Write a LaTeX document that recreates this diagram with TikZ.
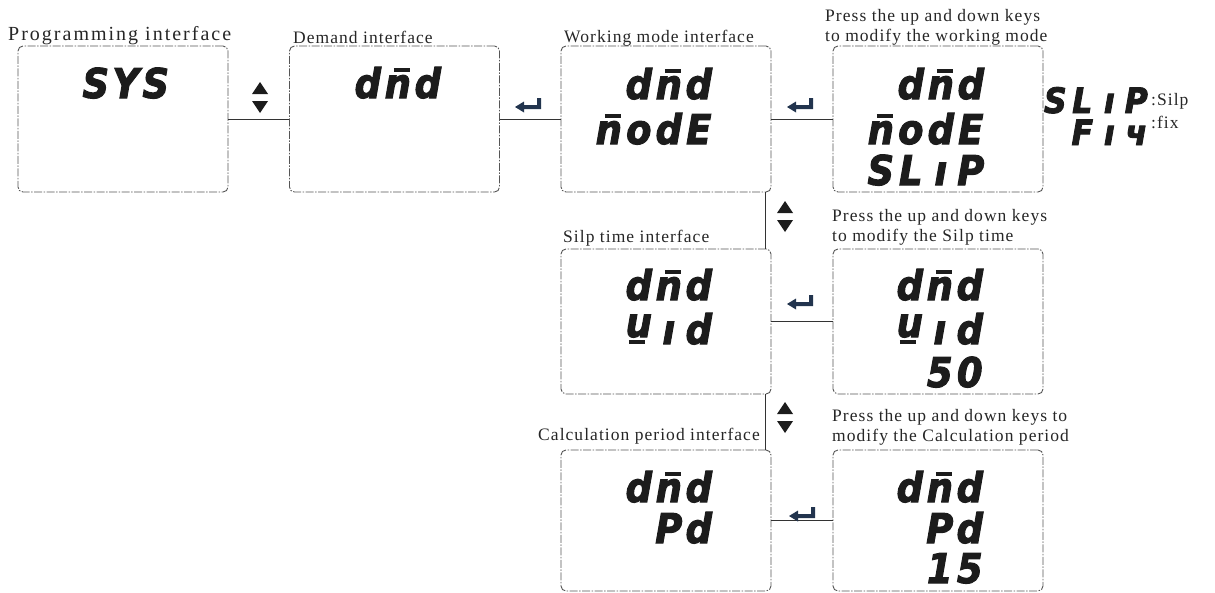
\documentclass[tikz,border=0pt]{standalone}
\usepackage{fontspec}
\setmainfont{Liberation Serif}[LetterSpace=6]
\newfontfamily\progfont{Liberation Serif}[LetterSpace=10]
\newfontfamily\segf{DejaVu Sans}[FakeStretch=0.9, BoldItalicFeatures={FakeBold=2.5}]
\newlength\segpitch
\setlength\segpitch{30pt}
\newcommand\segch[1]{\makebox[\segpitch][c]{#1}}
\def\segloop#1{\ifx#1\relax\else\segch{#1}\expandafter\segloop\fi}
\newcommand\segline[1]{\segloop#1\relax}
\newcommand\barn{\ooalign{n\cr\hidewidth\kern8pt\rule[26pt]{16pt}{4.5pt}\hidewidth\cr}}
\newcommand\wseg{\ooalign{\raisebox{7pt}{u}\cr\hidewidth\rule{16pt}{4.5pt}\kern4pt\hidewidth\cr}}
\definecolor{segc}{HTML}{1C1C1C}
\definecolor{boxc}{HTML}{555555}
\definecolor{entc}{HTML}{22344E}
\definecolor{labc}{HTML}{262626}
\tikzset{
  box/.style={draw=boxc, line width=0.9pt, rounded corners=5pt,
    dash pattern=on 8pt off 1.5pt on 1.5pt off 1.5pt,
    minimum width=210pt, inner sep=0pt},
  seg/.style={inner sep=0pt, text=segc, anchor=base east,
    font={\segf\bfseries\itshape\fontsize{41}{41}\selectfont\setlength\segpitch{30pt}}},
  segsmall/.style={inner sep=0pt, text=segc, anchor=base east,
    font={\segf\bfseries\itshape\fontsize{35}{35}\selectfont\setlength\segpitch{27pt}}},
  lab/.style={inner sep=0pt, anchor=base west, text=labc, font=\fontsize{17.5}{20}\selectfont},
  conn/.style={draw=black!80, line width=0.9pt},
  updown/.pic={\fill[segc] (0,12) -- (8,0) -- (16,12) -- cycle;
               \fill[segc] (0,19) -- (16,19) -- (8,31) -- cycle;},
  enterkey/.pic={\fill[entc] (0,9) -- (9,3.5) -- (9,7) -- (22,7) -- (22,0) -- (26,0)
               -- (26,11) -- (9,11) -- (9,14.5) -- cycle;}
}
\begin{document}
\begin{tikzpicture}[x=1pt,y=-1pt]
\useasboundingbox (0,0) rectangle (1215,592);
% boxes
\node[box, minimum height=146pt] (b1) at (123,119) {};
\node[box, minimum height=146pt] (b2) at (394.5,119) {};
\node[box, minimum height=146pt] (b3) at (666,119) {};
\node[box, minimum height=146pt] (b4) at (938,119) {};
\node[box, minimum height=145pt] (b5) at (666,321.5) {};
\node[box, minimum height=145pt] (b6) at (938,321.5) {};
\node[box, minimum height=141pt] (b7) at (666,520.5) {};
\node[box, minimum height=141pt] (b8) at (938,520.5) {};
% connectors
\draw[conn] (b1.east) -- (b2.west);
\draw[conn] (b2.east) -- (b3.west);
\draw[conn] (b3.east) -- (b4.west);
\draw[conn] (b5.east) -- (b6.west);
\draw[conn] (b7.east) -- (b8.west);
\draw[conn] ([xshift=-6pt]b3.south east) -- ([xshift=-6pt]b5.north east);
\draw[conn] ([xshift=-6pt]b5.south east) -- ([xshift=-6pt]b7.north east);
% key symbols
\pic (ud1) at (252,82) {updown};
\pic (ud2) at (777,201) {updown};
\pic (ud3) at (777,402) {updown};
\pic (en1) at (515,98) {enterkey};
\pic (en2) at (787,98) {enterkey};
\pic (en3) at (787,295) {enterkey};
\pic (en4) at (789,507) {enterkey};
% labels
\node[lab, font=\progfont\fontsize{20}{22}\selectfont] (l1) at (8,40) {Programming interface};
\node[lab] (l2) at (293,43) {Demand interface};
\node[lab] (l3) at (564,42) {Working mode interface};
\node[lab] (l4a) at (825,21) {Press the up and down keys};
\node[lab] (l4b) at (825,41) {to modify the working mode};
\node[lab] (l5) at (563,242) {Silp time interface};
\node[lab] (l6a) at (832,221) {Press the up and down keys};
\node[lab] (l6b) at (832,241) {to modify the Silp time};
\node[lab, anchor=base east] (l7) at (760,440) {Calculation period interface};
\node[lab] (l8a) at (832,421) {Press the up and down keys to};
\node[lab] (l8b) at (832,441) {modify the Calculation period};
% display contents
\node[seg] (s1) at (171,98) {\segline{SYS}};
\node[seg] (s2) at (443,98) {\segline{d\barn d}};
\node[seg] (s3a) at (714,99) {\segline{d\barn d}};
\node[seg] (s3b) at (714,144) {\segline{\barn odE}};
\node[seg] (s4a) at (986,99) {\segline{d\barn d}};
\node[seg] (s4b) at (986,144) {\segline{\barn odE}};
\node[seg] (s4c) at (986,185) {\segline{SLıP}};
\node[seg] (s5a) at (714,300) {\segline{d\barn d}};
\node[seg] (s5b) at (714,344) {\segline{\wseg ıd}};
\node[seg] (s6a) at (985,300) {\segline{d\barn d}};
\node[seg] (s6b) at (985,344) {\segline{\wseg ıd}};
\node[seg] (s6c) at (985,387) {\segline{50}};
\node[seg] (s7a) at (714,502) {\segline{d\barn d}};
\node[seg] (s7b) at (714,543) {\segline{Pd}};
\node[seg] (s8a) at (985,502) {\segline{d\barn d}};
\node[seg] (s8b) at (985,543) {\segline{Pd}};
\node[seg] (s8c) at (985,583) {\segline{15}};
% legend
\node[segsmall] (g1) at (1150,113) {\segline{SLıP}};
\node[segsmall] (g2) at (1150,145) {\segline{Fıч}};
\node[lab] (g1t) at (1151,105) {:Silp};
\node[lab] (g2t) at (1151,128) {:fix};
\end{tikzpicture}
\end{document}
